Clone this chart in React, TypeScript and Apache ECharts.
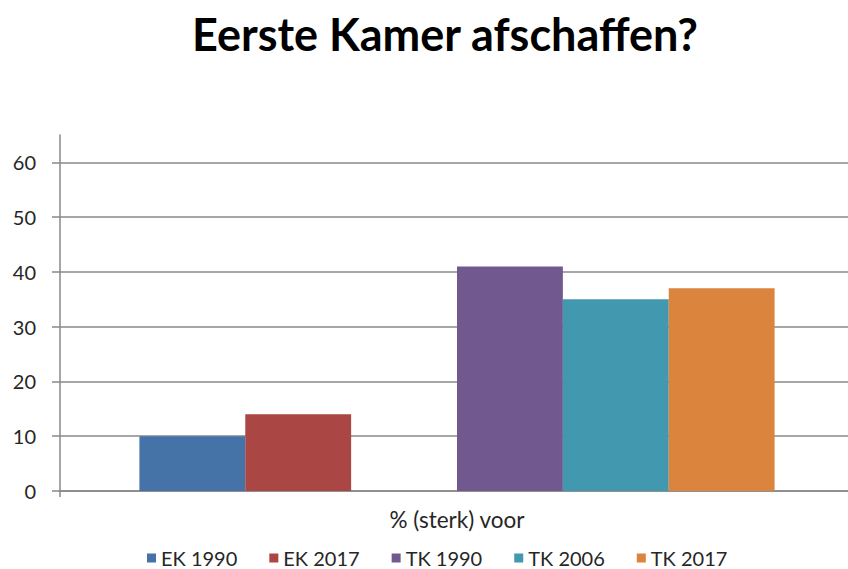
import React, { useEffect, useRef } from "react";
import * as echarts from "echarts";

const categories = ["% (sterk) voor"];
const seriesNames = ["EK 1990", "EK 2017", "", "TK 1990", "TK 2006", "TK 2017"];
const seriesValues: (number | null)[][] = [[10], [14], [null], [41], [35], [37]];
const seriesColors = ["#4572A7", "#AA4643", "transparent", "#71588F", "#4198AF", "#DB843D"];
const yTicks = [0, 10, 20, 30, 40, 50, 60];
const legendNames = ["EK 1990", "EK 2017", "TK 1990", "TK 2006", "TK 2017"];

const FONT = "Lato";

export default function App() {
  const ref = useRef<HTMLDivElement>(null);
  useEffect(() => {
    const chart = echarts.init(ref.current!, null, { renderer: "svg" });
    chart.setOption({
      animation: false,
      backgroundColor: "#ffffff",
      title: {
        text: "Eerste Kamer afschaffen?",
        left: 440,
        textAlign: "center",
        top: 6,
        textStyle: { fontFamily: FONT, fontWeight: "bold", fontSize: 45, color: "#000000" },
      },
      legend: {
        data: legendNames,
        left: 147,
        top: 548,
        padding: 0,
        itemWidth: 9,
        itemHeight: 9,
        itemGap: 32,
        icon: "rect",
        textStyle: { fontFamily: FONT, fontSize: 20, color: "#262626" },
      },
      grid: { left: 60, right: -6, top: 135, bottom: 78, containLabel: false, outerBoundsMode: "none" },
      xAxis: {
        type: "category",
        data: categories,
        axisLine: { show: true, lineStyle: { color: "#888888", width: 1.5 } },
        axisTick: { show: true, length: 6, lineStyle: { color: "#888888", width: 1.5 } },
        axisLabel: { fontFamily: FONT, fontSize: 22.5, color: "#262626", margin: 17 },
      },
      yAxis: {
        type: "value",
        min: 0,
        max: 65,
        interval: 10,
        axisLine: { show: true, lineStyle: { color: "#888888", width: 1.5 } },
        axisTick: { show: true, length: 8, customValues: yTicks, lineStyle: { color: "#888888", width: 1.5 } },
        axisLabel: { fontFamily: FONT, fontSize: 20, color: "#262626", margin: 24, customValues: yTicks },
        splitLine: {
          show: true,
          lineStyle: {
            color: ["#888888", "#888888", "#888888", "#888888", "#888888", "#888888", "#888888", "rgba(0,0,0,0)"],
            width: 1.5,
          },
        },
      },
      series: seriesNames.map((name, i) => ({
        type: "bar",
        name,
        data: seriesValues[i],
        barGap: "0%",
        barCategoryGap: "20%",
        itemStyle: { color: seriesColors[i] },
      })),
    });
    return () => chart.dispose();
  }, []);
  return (
    <div
      ref={ref}
      style={{ position: "absolute", left: 0, top: 0, width: 848, height: 569 }}
    />
  );
}
